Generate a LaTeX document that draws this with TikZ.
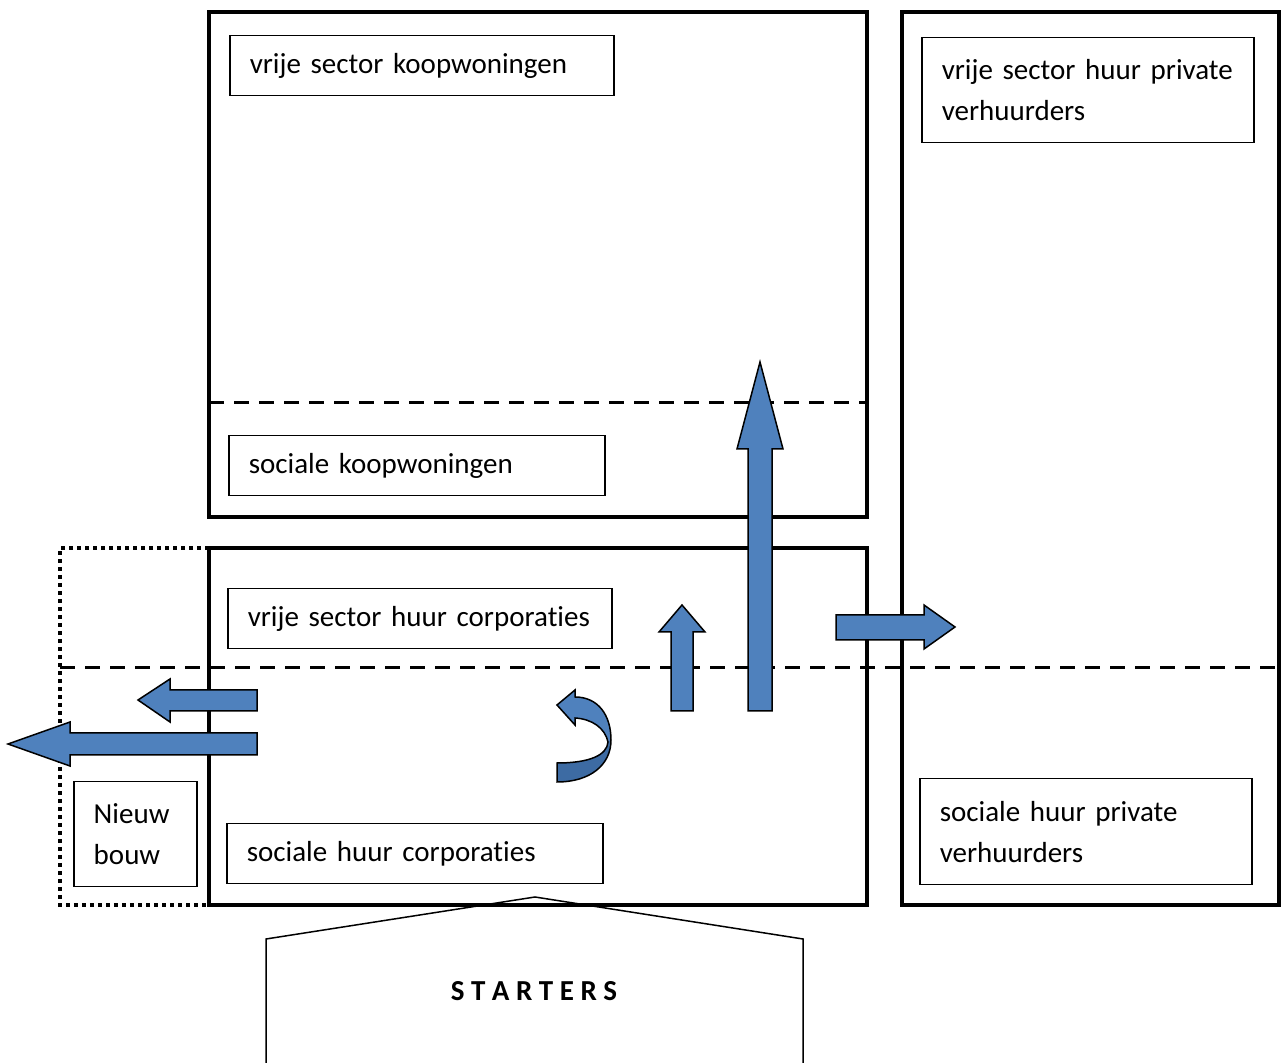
\documentclass[tikz,border=0pt]{standalone}
\usepackage{fontspec}
\setmainfont{Carlito}[Ligatures=NoCommon]
\usepackage{tikz}
\usetikzlibrary{
  positioning,
  fit,
  calc
}
\definecolor{wmBlue}{HTML}{4F81BD}
\definecolor{wmBlueDark}{HTML}{3D6BA3}
\tikzset{
  sectorbox/.style={draw, line width=2pt, inner sep=0pt},
  newbox/.style={draw, line width=2pt, dash pattern=on 2pt off 2pt, inner sep=0pt},
  lbl/.style={
    draw, line width=0.75pt, anchor=north west, align=left,
    inner xsep=10pt, inner ysep=0pt, font=\fontsize{14.5}{20.5}\selectfont
  },
  divider/.style={line width=1.5pt, dash pattern=on 7.5pt off 5pt},
  blockarrow/.style={draw, line width=0.75pt, fill=wmBlue, line join=miter},
  starterline/.style={draw, line width=0.75pt}
}

\begin{document}
\begin{tikzpicture}[x=0.5pt, y=-0.5pt]
  \useasboundingbox (0,0) rectangle (1281,1063);
  % sectors
  \node[sectorbox, fit={(209,12) (867,517)}] (koop) {};
  \node[sectorbox, fit={(209,548) (867,905)}] (corp) {};
  \node[sectorbox, fit={(902,12) (1279,905)}] (priv) {};
  \draw[newbox] (209,548) -- (60,548) -- (60,905) -- (209,905);
  \draw[divider] (209,403) -- (867,403);
  \draw[divider] (60,668) -- (1281,668);
  % labels
  \node[lbl, text width=172pt, minimum height=30pt] (vsk) at (229,35) {vrije sector koopwoningen};
  \node[lbl, text width=168pt, minimum height=30pt] (sk) at (228,435) {sociale koopwoningen};
  \node[lbl, text width=172pt, minimum height=30pt] (vhc) at (227,588) {vrije sector huur corporaties};
  \node[lbl, text width=168pt, minimum height=30pt] (shc) at (226,823) {sociale huur corporaties};
  \node[lbl, text width=146pt, minimum height=52.5pt] (vhp) at (921,37) {vrije sector huur private\\verhuurders};
  \node[lbl, text width=146pt, minimum height=53pt] (shp) at (919,778) {sociale huur private\\verhuurders};
  \node[lbl, text width=41.5pt, minimum height=52.5pt] (nb) at (73,781) {Nieuw\\bouw};
  % starters
  \draw[starterline] (266,1063) -- (266,939) -- (535,897) -- (803,939) -- (803,1063);
  \node[font=\fontsize{14.5}{17}\selectfont\bfseries] (start) at (534,991) {S T A R T E R S};
  % flows
  \draw[blockarrow] (748,711) -- (748,449) -- (737,449) -- (760,362) -- (783,449) -- (772,449) -- (772,711) -- cycle;
  \draw[blockarrow] (671,711) -- (671,632) -- (659,632) -- (682,605) -- (705,632) -- (693,632) -- (693,711) -- cycle;
  \draw[blockarrow] (836,615) -- (924,615) -- (924,605) -- (955,627) -- (924,649) -- (924,640) -- (836,640) -- cycle;
  \draw[blockarrow] (257,690) -- (170,690) -- (170,679) -- (138,700) -- (170,722) -- (170,711) -- (257,711) -- cycle;
  \draw[blockarrow] (257,733) -- (70,733) -- (70,722) -- (8,744) -- (70,766) -- (70,755) -- (257,755) -- cycle;
  % turn
  \fill[wmBlue] (557,763) .. controls (590,763) and (607,755) .. (608,742)
    .. controls (605,728) and (592,719) .. (575,718) -- (575,725) -- (557,705)
    -- (575,690) -- (575,697) .. controls (598,697) and (611,715) .. (611,740)
    .. controls (611,765) and (590,782) .. (557,782) -- cycle;
  \fill[wmBlueDark] (557,763) .. controls (590,763) and (607,755) .. (608,742)
    -- (611,740) .. controls (611,765) and (590,782) .. (557,782) -- cycle;
  \draw[line width=0.75pt, line join=miter] (557,763) .. controls (590,763) and (607,755) .. (608,742)
    .. controls (605,728) and (592,719) .. (575,718) -- (575,725) -- (557,705)
    -- (575,690) -- (575,697) .. controls (598,697) and (611,715) .. (611,740)
    .. controls (611,765) and (590,782) .. (557,782) -- cycle;
\end{tikzpicture}
\end{document}
